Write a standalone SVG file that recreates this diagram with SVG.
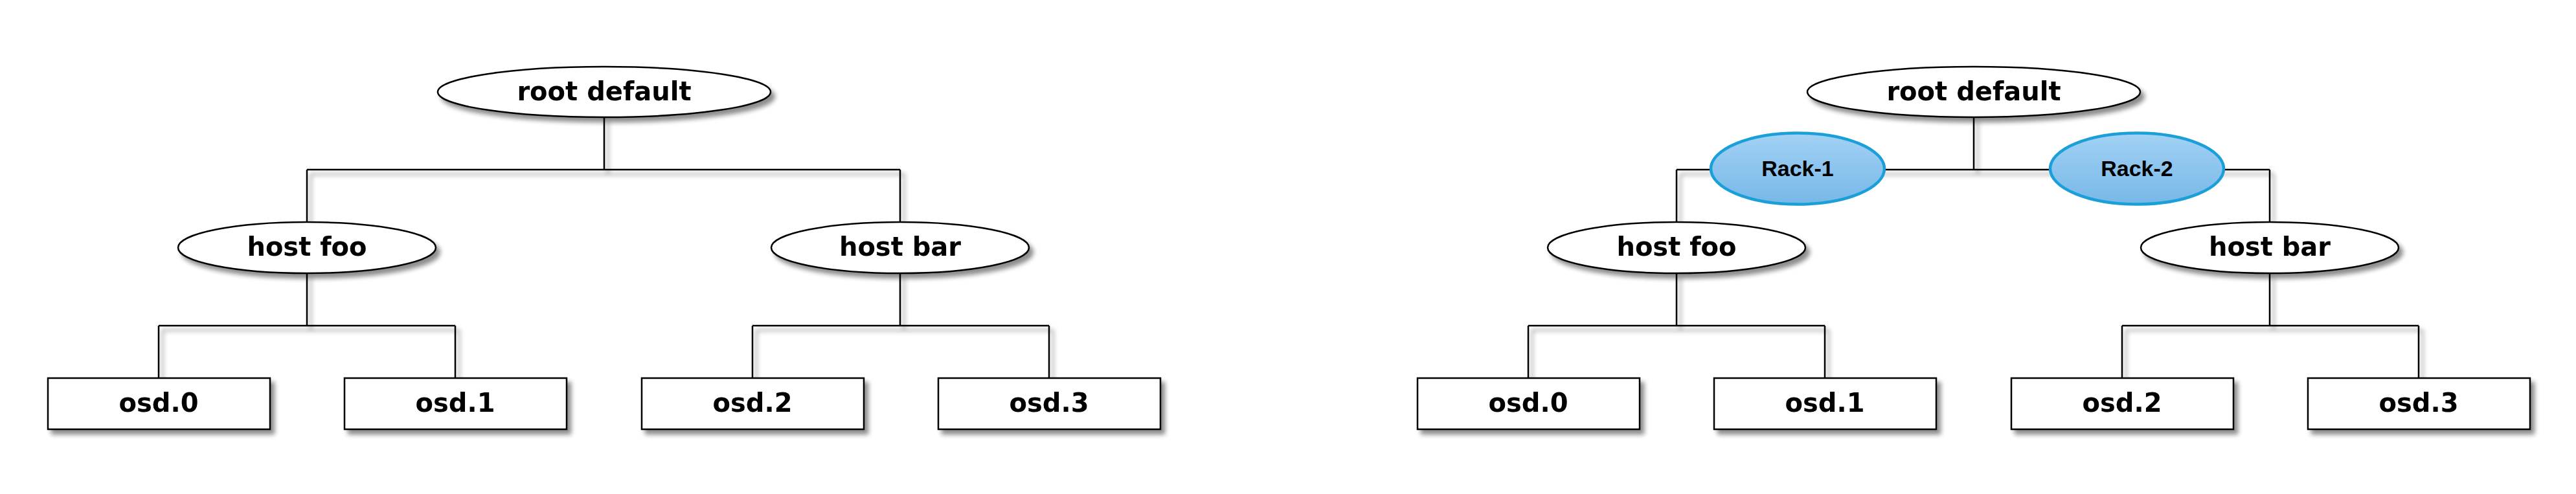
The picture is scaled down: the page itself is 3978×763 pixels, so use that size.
<svg xmlns="http://www.w3.org/2000/svg" width="3978" height="763" viewBox="0 0 3978 763">
<defs>
<filter id="sh" x="-10%" y="-30%" width="125%" height="170%">
<feGaussianBlur in="SourceAlpha" stdDeviation="3.5"/>
<feOffset dx="6" dy="7" result="b"/>
<feComponentTransfer><feFuncA type="linear" slope="0.45"/></feComponentTransfer>
<feMerge><feMergeNode/><feMergeNode in="SourceGraphic"/></feMerge>
</filter>
<linearGradient id="rk" x1="0" y1="0" x2="0" y2="1">
<stop offset="0" stop-color="#a2d1f4"/>
<stop offset="1" stop-color="#77b8e8"/>
</linearGradient>
</defs>
<style>
.n{fill:#fff;stroke:#000;stroke-width:2.5}
.t{font-family:"DejaVu Sans",sans-serif;font-weight:bold;font-size:40px;text-anchor:middle;fill:#000}
.r{fill:url(#rk);stroke:#1a9fd8;stroke-width:4.5}
.rt{font-family:"Liberation Sans",Arial,sans-serif;font-weight:bold;font-size:34px;text-anchor:middle;fill:#000}
.c{fill:none;stroke:#000;stroke-width:2.5}
</style>
<rect width="3978" height="763" fill="#fff"/>
<g id="connectors" filter="url(#sh)">
<path class="c" d="M933 181V262M474 262H1390M474 262V343M1390 262V343M474 422V503M245 503H703M245 503V584M703 503V584M1390 422V503M1162 503H1620M1162 503V584M1620 503V584"/>
<path class="c" d="M3048 181V262M2589 262H3505M2589 262V343M3505 262V343M2589 422V503M2360 503H2818M2360 503V584M2818 503V584M3505 422V503M3277 503H3735M3277 503V584M3735 503V584"/>
</g>
<g id="root-left" filter="url(#sh)"><ellipse class="n" cx="933" cy="142" rx="257" ry="39"/><text class="t" x="933" y="155">root default</text></g>
<g id="hostfoo-left" filter="url(#sh)"><ellipse class="n" cx="474" cy="382.5" rx="199" ry="39.5"/><text class="t" x="474" y="395">host foo</text></g>
<g id="hostbar-left" filter="url(#sh)"><ellipse class="n" cx="1390" cy="382.5" rx="199" ry="39.5"/><text class="t" x="1390" y="395">host bar</text></g>
<g id="osd0-left" filter="url(#sh)"><rect class="n" x="74" y="584" width="343" height="79"/><text class="t" x="245" y="636">osd.0</text></g>
<g id="osd1-left" filter="url(#sh)"><rect class="n" x="532" y="584" width="343" height="79"/><text class="t" x="703" y="636">osd.1</text></g>
<g id="osd2-left" filter="url(#sh)"><rect class="n" x="991" y="584" width="343" height="79"/><text class="t" x="1162" y="636">osd.2</text></g>
<g id="osd3-left" filter="url(#sh)"><rect class="n" x="1449" y="584" width="343" height="79"/><text class="t" x="1620" y="636">osd.3</text></g>
<g id="root-right" filter="url(#sh)"><ellipse class="n" cx="3048" cy="142" rx="257" ry="39"/><text class="t" x="3048" y="155">root default</text></g>
<g id="rack1"><ellipse class="r" cx="2776" cy="260.5" rx="134" ry="55"/><text class="rt" x="2776" y="272">Rack-1</text></g>
<g id="rack2"><ellipse class="r" cx="3300" cy="260.5" rx="134" ry="55"/><text class="rt" x="3300" y="272">Rack-2</text></g>
<g id="hostfoo-right" filter="url(#sh)"><ellipse class="n" cx="2589" cy="382.5" rx="199" ry="39.5"/><text class="t" x="2589" y="395">host foo</text></g>
<g id="hostbar-right" filter="url(#sh)"><ellipse class="n" cx="3505" cy="382.5" rx="199" ry="39.5"/><text class="t" x="3505" y="395">host bar</text></g>
<g id="osd0-right" filter="url(#sh)"><rect class="n" x="2189" y="584" width="343" height="79"/><text class="t" x="2360" y="636">osd.0</text></g>
<g id="osd1-right" filter="url(#sh)"><rect class="n" x="2647" y="584" width="343" height="79"/><text class="t" x="2818" y="636">osd.1</text></g>
<g id="osd2-right" filter="url(#sh)"><rect class="n" x="3106" y="584" width="343" height="79"/><text class="t" x="3277" y="636">osd.2</text></g>
<g id="osd3-right" filter="url(#sh)"><rect class="n" x="3564" y="584" width="343" height="79"/><text class="t" x="3735" y="636">osd.3</text></g>
</svg>
